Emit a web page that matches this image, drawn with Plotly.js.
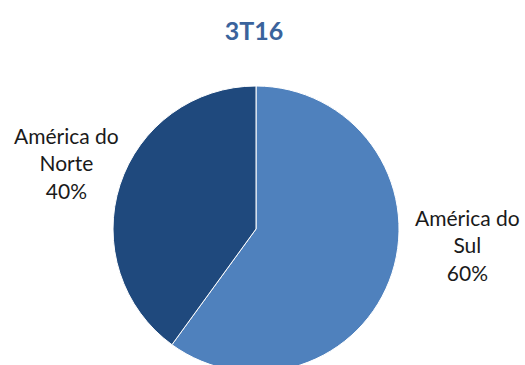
<!DOCTYPE html>
<html>
<head>
<meta charset="utf-8">
<script src="https://cdn.plot.ly/plotly-3.0.1.min.js"></script>
<style>
html,body{margin:0;padding:0;overflow:hidden;background:#fff;width:525px;height:365px;}
#chart{width:525px;height:380px;}
</style>
</head>
<body>
<div id="chart"></div>
<script>
var title = "3T16";
var labels = ["América do Sul", "América do Norte"];
var values = [60, 40];
var colors = ["#4f81bd", "#1f497d"];

var W = 525, H = 380;
var cx = 256, cy = 229, r = 143;

function labelText(lbl, v) {
  return lbl.replace(" do ", " do<br>") + "<br>" + v + "%";
}

var data = [{
  type: "pie",
  labels: labels,
  values: values,
  sort: false,
  direction: "clockwise",
  rotation: 0,
  marker: {colors: colors, line: {color: "#ffffff", width: 1}},
  textinfo: "none",
  hoverinfo: "label+percent",
  showlegend: false,
  domain: {x: [(cx - r) / W, (cx + r) / W], y: [(H - cy - r) / H, (H - cy + r) / H]}
}];

var labelPos = [
  {x: 467, y: 245},
  {x: 66, y: 163}
];

var annotations = labels.map(function (l, i) {
  return {
    text: labelText(l, values[i]),
    x: labelPos[i].x / W, y: 1 - labelPos[i].y / H,
    xref: "paper", yref: "paper",
    xanchor: "center", yanchor: "middle",
    showarrow: false, align: "center",
    font: {family: "Lato, 'Open Sans', sans-serif", size: 21, color: "#1a1a1a"}
  };
});

var layout = {
  width: W, height: H,
  margin: {l: 0, r: 0, t: 0, b: 0},
  paper_bgcolor: "#ffffff",
  title: {
    text: "<b>" + title + "</b>",
    x: 254 / W, xanchor: "center",
    y: 1 - 31 / H, yanchor: "middle",
    font: {family: "Lato, 'Open Sans', sans-serif", size: 25, color: "#3a639c"}
  },
  annotations: annotations
};

Plotly.newPlot("chart", data, layout, {displayModeBar: false, staticPlot: true});
</script>
</body>
</html>
